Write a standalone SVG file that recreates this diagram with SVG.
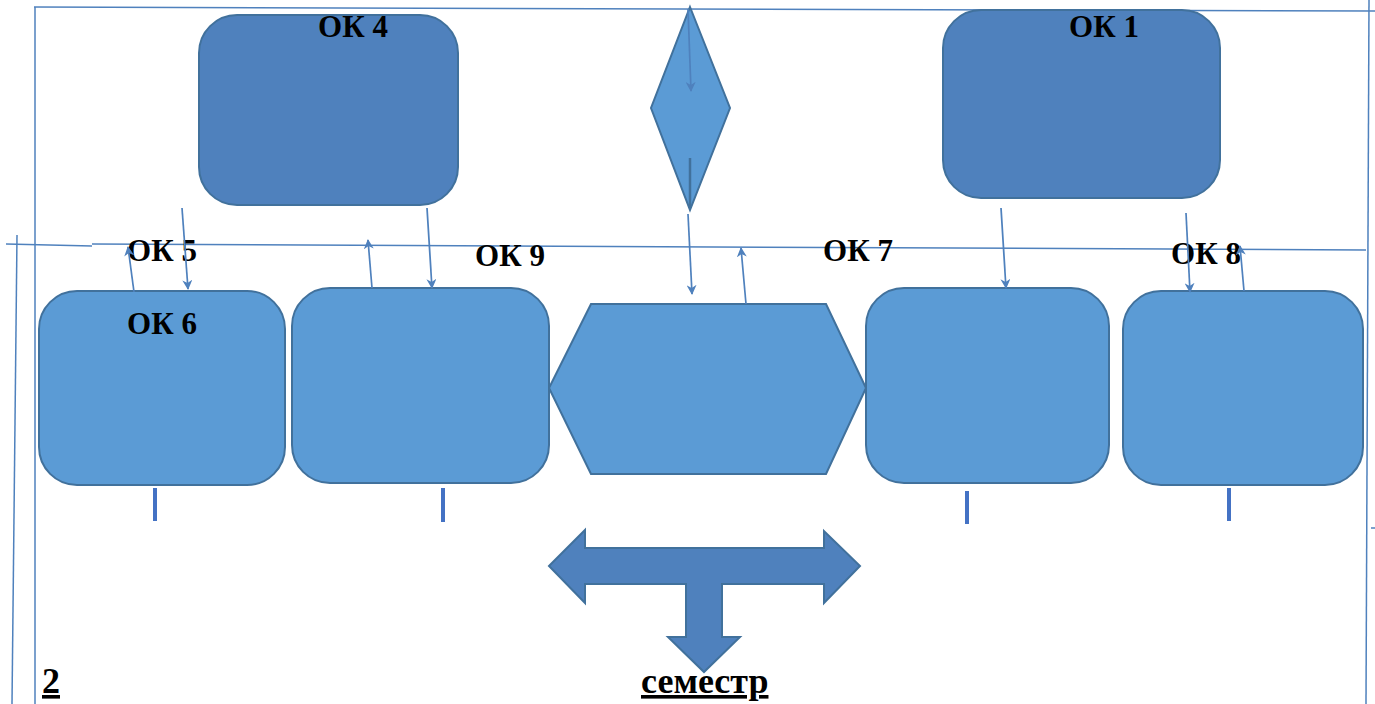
<svg xmlns="http://www.w3.org/2000/svg" width="1375" height="704" viewBox="0 0 1375 704">
<style>
.frame{stroke:#4F81BD;stroke-width:1.5;fill:none}
.dark{fill:#4F81BD;stroke:#41719C;stroke-width:2}
.light{fill:#5B9BD5;stroke:#41719C;stroke-width:2}
.con{stroke:#4F81BD;stroke-width:1.7;fill:none}
.tick{stroke:#4472C4;stroke-width:4}
.lbl{font-family:"Liberation Serif","Times New Roman",serif;font-weight:bold;font-size:31px;fill:#000}
.big{font-family:"Liberation Serif","Times New Roman",serif;font-weight:bold;font-size:36px;fill:#000;text-decoration:underline}
</style>
<defs>
<marker id="ah" viewBox="0 0 10 10" refX="9" refY="5" markerWidth="10" markerHeight="10" orient="auto" markerUnits="userSpaceOnUse">
<path d="M0,0 L10,5 L0,10 L3,5 z" fill="#4F81BD"/>
</marker>
</defs>
<rect width="1375" height="704" fill="#fff"/>
<g id="frame">
<line class="frame" x1="34" y1="7" x2="1375" y2="11"/>
<line class="frame" x1="35" y1="7" x2="35" y2="704"/>
<line class="frame" x1="17" y1="235" x2="12" y2="704"/>
<line class="frame" x1="1369" y1="0" x2="1366" y2="704"/>
<line class="frame" x1="6" y1="244" x2="92" y2="246"/>
<line class="frame" x1="92" y1="244" x2="1366" y2="250"/>
<line class="frame" x1="1371" y1="528" x2="1375" y2="528"/>
</g>
<g id="ok4">
<rect class="dark" x="199" y="15" width="259" height="190" rx="38"/>
<text class="lbl" x="353" y="37" text-anchor="middle">ОК 4</text>
</g>
<g id="ok1">
<rect class="dark" x="943" y="10" width="277" height="188" rx="38"/>
<text class="lbl" x="1104" y="37" text-anchor="middle">ОК 1</text>
</g>
<g id="diamond">
<polygon class="light" points="690,7 730,108 690,210 651,108"/>
<line x1="690" y1="158" x2="690" y2="207" stroke="#41719C" stroke-width="2.5"/>
</g>
<g id="ok6">
<rect class="light" x="39" y="291" width="246" height="194" rx="38"/>
<text class="lbl" x="162" y="334" text-anchor="middle">ОК 6</text>
</g>
<g id="box2">
<rect class="light" x="292" y="288" width="257" height="195" rx="38"/>
</g>
<g id="hexagon">
<polygon class="light" points="591,304 826,304 866,388 826,474 591,474 549,388"/>
</g>
<g id="box4">
<rect class="light" x="866" y="288" width="243" height="195" rx="38"/>
</g>
<g id="box5">
<rect class="light" x="1123" y="291" width="240" height="194" rx="38"/>
</g>
<g id="labels">
<text class="lbl" x="162" y="261" text-anchor="middle">ОК 5</text>
<text class="lbl" x="510" y="266" text-anchor="middle">ОК 9</text>
<text class="lbl" x="858" y="261" text-anchor="middle">ОК 7</text>
<text class="lbl" x="1206" y="264" text-anchor="middle">ОК 8</text>
</g>
<g id="ticks">
<line class="tick" x1="155" y1="488" x2="155" y2="521"/>
<line class="tick" x1="443" y1="488" x2="443" y2="522"/>
<line class="tick" x1="967" y1="491" x2="967" y2="524"/>
<line class="tick" x1="1229" y1="488" x2="1229" y2="521"/>
</g>
<g id="tarrow">
<polygon class="dark" points="549,566 585,530 585,548 824,548 824,531 860,566 824,603 824,584 722,584 722,637 740,637 704,672 668,637 686,637 686,584 585,584 585,603"/>
</g>
<g id="connectors">
<line class="con" x1="182" y1="208" x2="188" y2="289" marker-end="url(#ah)"/>
<line class="con" x1="134" y1="292" x2="128" y2="247" marker-end="url(#ah)"/>
<line class="con" x1="427" y1="208" x2="432" y2="288" marker-end="url(#ah)"/>
<line class="con" x1="372" y1="288" x2="368" y2="240" marker-end="url(#ah)"/>
<line class="con" x1="688" y1="9" x2="691" y2="91" marker-end="url(#ah)"/>
<line class="con" x1="688" y1="214" x2="692" y2="294" marker-end="url(#ah)"/>
<line class="con" x1="746" y1="304" x2="741" y2="248" marker-end="url(#ah)"/>
<line class="con" x1="1001" y1="208" x2="1006" y2="288" marker-end="url(#ah)"/>
<line class="con" x1="1186" y1="213" x2="1190" y2="292" marker-end="url(#ah)"/>
<line class="con" x1="1244" y1="291" x2="1240" y2="246" marker-end="url(#ah)"/>
</g>
<g id="footer">
<text class="big" x="42" y="693">2</text>
<text class="big" x="641" y="693">семестр</text>
</g>
</svg>
